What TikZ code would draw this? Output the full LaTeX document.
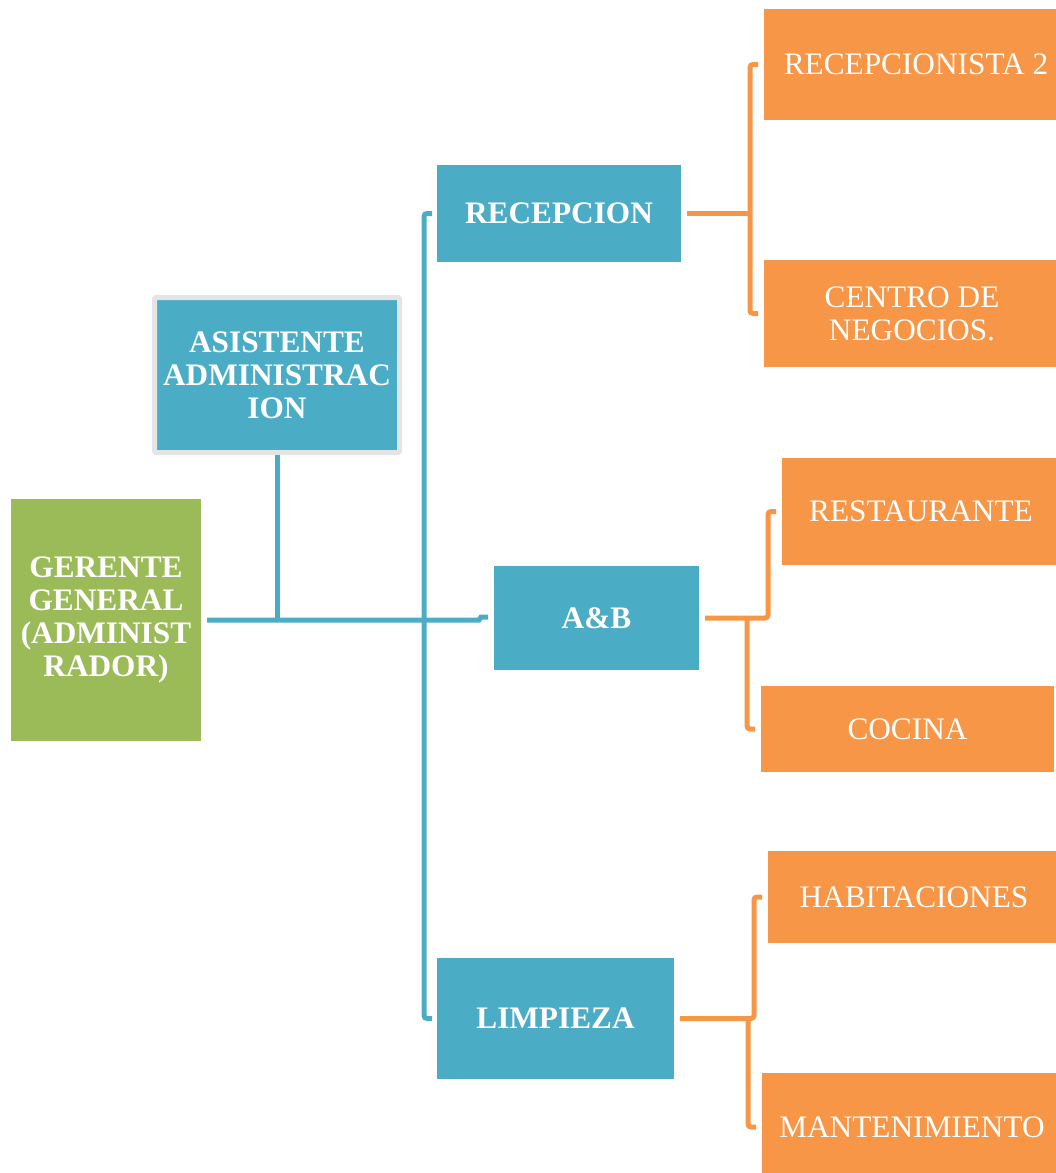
\documentclass[tikz,border=0pt]{standalone}
\usepackage{fontspec}
\setmainfont{Liberation Serif}
\begin{document}
\definecolor{cblue}{HTML}{4BACC6}
\definecolor{cgreen}{HTML}{9BBB59}
\definecolor{corange}{HTML}{F79646}
\definecolor{cgrey}{HTML}{E4E4E4}
\begin{tikzpicture}[x=1pt,y=-1pt,
  box/.style={inner sep=0pt, outer sep=0pt, align=center, text=white,
    font=\fontsize{31.3}{33}\selectfont},
  gbox/.style={box, fill=cgreen, font=\fontsize{31.3}{33}\selectfont\bfseries},
  bbox/.style={box, fill=cblue, font=\fontsize{31.3}{33}\selectfont\bfseries},
  obox/.style={box, fill=corange},
  bline/.style={draw=cblue, line width=5pt, rounded corners=3pt},
  oline/.style={draw=corange, line width=5pt, rounded corners=3pt}]
\clip (0,0) rectangle (1056,1173);

% top management
\node[gbox, minimum width=190, minimum height=242] (ger) at (106,620)
  {GERENTE\\GENERAL\\(ADMINIST\\RADOR)};
\node[bbox, draw=cgrey, line width=5pt, rounded corners=1.5pt, outer sep=2.5pt,
  minimum width=245, minimum height=155] (asis) at (277,375)
  {ASISTENTE\\ADMINISTRAC\\ION};

% departments
\node[bbox, minimum width=244, minimum height=97] (recep) at (559,213.5) {RECEPCION};
\node[bbox, minimum width=205, minimum height=104] (ab) at (596.5,618) {A\&B};
\node[bbox, minimum width=237, minimum height=121] (limp) at (555.5,1018.5) {LIMPIEZA};

% sections
\node[obox, minimum width=304, minimum height=111] (rec2) at (916,64.5) {RECEPCIONISTA 2};
\node[obox, minimum width=296, minimum height=107] (centro) at (912,313.5) {CENTRO DE\\NEGOCIOS.};
\node[obox, minimum width=278, minimum height=107] (rest) at (921,511.5) {RESTAURANTE};
\node[obox, minimum width=293, minimum height=86] (coc) at (907.5,729) {COCINA};
\node[obox, minimum width=292, minimum height=92] (hab) at (914,897) {HABITACIONES};
\node[obox, minimum width=300, minimum height=108] (mant) at (912,1127) {MANTENIMIENTO};

% blue connectors
\coordinate (gj) at ([xshift=6]ger.east);
\draw[bline] (gj) -- ([xshift=-18]ab.west |- gj)
  to[out=0,in=180] ([xshift=-10,yshift=1]ab.west) -- ([xshift=-6,yshift=1]ab.west);
\draw[bline] (asis.south) -- (asis.south |- gj);
\draw[bline] ([xshift=-5]recep.west) -- ++(-8,0) |- ([xshift=-5]limp.west);

% orange connectors
\draw[oline] ([xshift=-6]rec2.west) -- ++(-8,0) coordinate (rj) |- ([xshift=-6]centro.west);
\draw[oline] ([xshift=6]recep.east) -- (recep.east -| rj);

\draw[oline] ([xshift=6]ab.east) -| ([xshift=-14]rest.west) -- ([xshift=-6]rest.west);
\draw[oline] ([xshift=-6]coc.west) -- ++(-8,0) coordinate (cj) -- (cj |- ab.east);

\draw[oline] ([xshift=6]limp.east) -| ([xshift=-14]hab.west) -- ([xshift=-6]hab.west);
\draw[oline] ([xshift=-6]mant.west) -- ++(-8,0) coordinate (mj) -- (mj |- limp.east);
\end{tikzpicture}
\end{document}
